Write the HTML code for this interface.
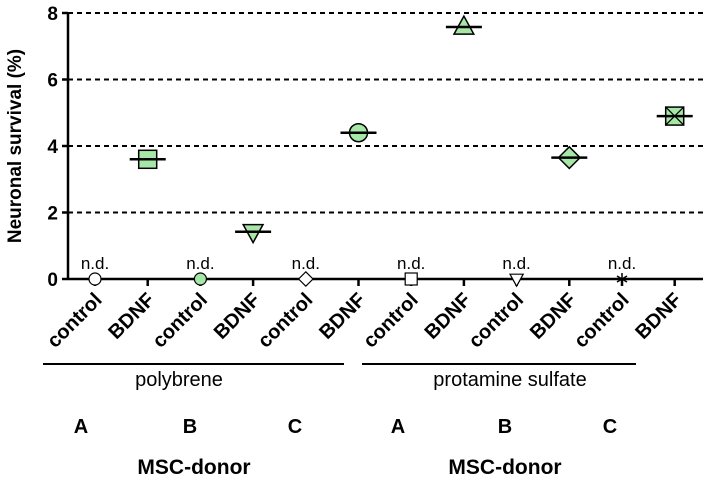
<!DOCTYPE html>
<html><head><meta charset="utf-8"><style>
body{margin:0;background:#fff;width:709px;height:483px;overflow:hidden}
svg{font-family:"Liberation Sans",Arial,sans-serif}
</style></head><body>
<svg id="chart" width="709" height="483" viewBox="0 0 709 483"></svg>
<script>
const categories=["control","BDNF","control","BDNF","control","BDNF","control","BDNF","control","BDNF","control","BDNF"];
const values=[0,3.6,0,1.42,0,4.4,0,7.58,0,3.65,0,4.9];
const markers=["circle","square","circle","tridown","diamond","circle","square","triup","tridown","diamond","star","xbox"];
const ndFlags=[1,0,1,0,1,0,1,0,1,0,1,0];
const yTicks=[0,2,4,6,8];
const groups=["polybrene","protamine sulfate"];
const donors=["A","B","C","A","B","C"];
const NS="http://www.w3.org/2000/svg";
const svg=document.getElementById('chart');
const x0=68,y0=279,yTop=13,xEnd=703;
const y=v=>y0-(v/8)*(y0-yTop);
const x=i=>95+i*52.7;
function el(t,a,p){const e=document.createElementNS(NS,t);for(const k in a)e.setAttribute(k,a[k]);(p||svg).appendChild(e);return e;}
yTicks.forEach(t=>{
 if(t>0){const g=el('line',{x1:x0,x2:xEnd,y1:y(t),y2:y(t),stroke:'#000','stroke-width':2,'stroke-dasharray':'5,4'});
 
 }
 el('line',{x1:x0-6,x2:x0,y1:y(t),y2:y(t),stroke:'#000','stroke-width':2.5});
 const tx=el('text',{x:x0-10,y:y(t)+7,'text-anchor':'end','font-size':19,'font-weight':'bold'});tx.textContent=t;
 
 
});
const ya=el('line',{x1:x0,x2:x0,y1:yTop-1,y2:y0+1,stroke:'#000','stroke-width':2.5});


const xa=el('line',{x1:x0,x2:xEnd,y1:y0,y2:y0,stroke:'#000','stroke-width':2.5});


const yt=el('text',{x:0,y:0,transform:'translate(21,146) rotate(-90)','text-anchor':'middle','font-size':19,'font-weight':'bold'});yt.textContent='Neuronal survival (%)';


const G='#a6e6a6';
categories.forEach((c,i)=>{
 const cx=x(i),cy=y(values[i]);
 el('line',{x1:cx,x2:cx,y1:y0,y2:y0+7,stroke:'#000','stroke-width':2.5});
 const lb=el('text',{x:0,y:0,transform:`translate(${cx+8},${y0+22}) rotate(-45)`,'text-anchor':'end','font-size':20,'font-weight':'bold'});lb.textContent=c;
 
 
 const nd=ndFlags[i]===1;
 const s=nd?6:9, fill=nd?(i==2?G:'#fff'):G, sw=nd?1.2:1.5;
 const g=el('g',{});
 
 
 const m=markers[i];
 if(m==='circle')el('circle',{cx,cy,r:s,fill,stroke:'#000','stroke-width':sw},g);
 else if(m==='square')el('rect',{x:cx-s,y:cy-s,width:2*s,height:2*s,fill,stroke:'#000','stroke-width':sw},g);
 else if(m==='triup')el('polygon',{points:`${cx},${cy-s*1.2} ${cx-s*1.1},${cy+s*0.8} ${cx+s*1.1},${cy+s*0.8}`,fill,stroke:'#000','stroke-width':sw},g);
 else if(m==='tridown')el('polygon',{points:`${cx},${cy+s*1.2} ${cx-s*1.1},${cy-s*0.8} ${cx+s*1.1},${cy-s*0.8}`,fill,stroke:'#000','stroke-width':sw},g);
 else if(m==='diamond')el('polygon',{points:`${cx},${cy-s*1.2} ${cx+s*1.2},${cy} ${cx},${cy+s*1.2} ${cx-s*1.2},${cy}`,fill,stroke:'#000','stroke-width':sw},g);
 else if(m==='xbox'){el('rect',{x:cx-s,y:cy-s,width:2*s,height:2*s,fill,stroke:'#000','stroke-width':sw},g);
  el('path',{d:`M${cx-s},${cy-s}L${cx+s},${cy+s}M${cx+s},${cy-s}L${cx-s},${cy+s}`,stroke:'#000','stroke-width':1.2},g);}
 else if(m==='star')el('path',{d:`M${cx},${cy-6}V${cy+6}M${cx-5},${cy-3}L${cx+5},${cy+3}M${cx+5},${cy-3}L${cx-5},${cy+3}`,stroke:'#000','stroke-width':1.5},g);
 if(!nd)el('line',{x1:cx-18,x2:cx+18,y1:cy,y2:cy,stroke:'#000','stroke-width':2.5},g);
 else{const t=el('text',{x:cx,y:y0-10,'text-anchor':'middle','font-size':17},g);t.textContent='n.d.';}
});
const gx=[[43,344],[362,636]];
groups.forEach((n,k)=>{
 const l=el('line',{x1:gx[k][0],x2:gx[k][1],y1:364,y2:364,stroke:'#000','stroke-width':2});
 
 
 const t=el('text',{x:k?510:179,y:386,'text-anchor':'middle','font-size':20});t.textContent=n;
 
 
 const m=el('text',{x:k?505:194,y:474,'text-anchor':'middle','font-size':21,'font-weight':'bold'});m.textContent='MSC-donor';
 
 
});
const dx=[81,190,295,398,505,610];
donors.forEach((d,i)=>{
 const t=el('text',{x:dx[i],y:433,'text-anchor':'middle','font-size':20,'font-weight':'bold'});t.textContent=d;
 
 
});
</script>
</body></html>
